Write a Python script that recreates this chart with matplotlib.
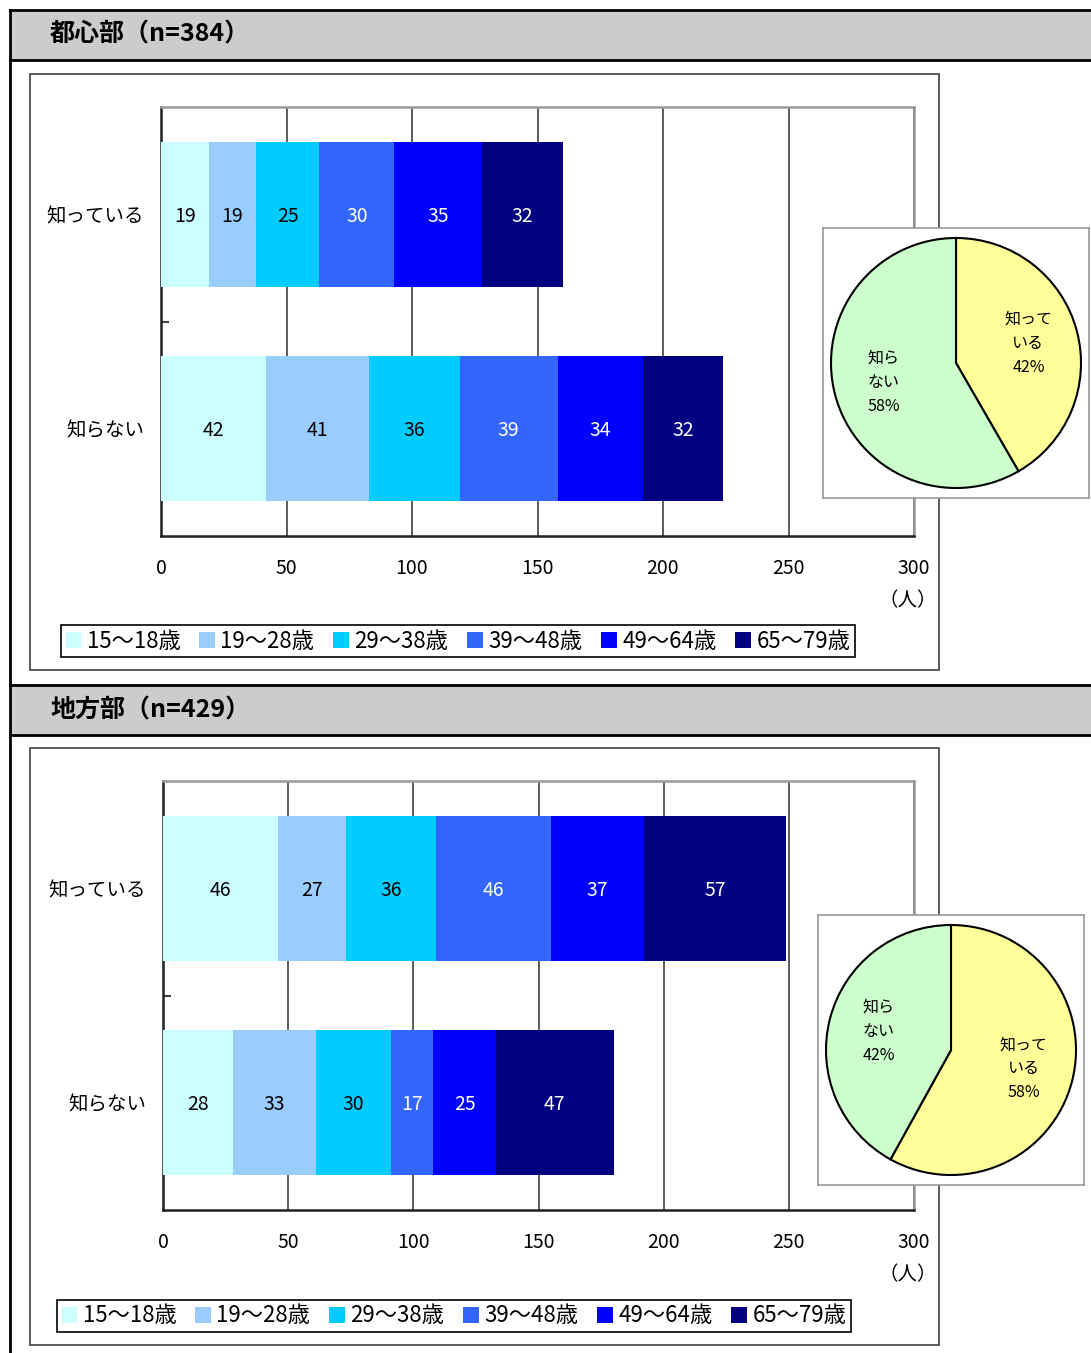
import numpy as np
import matplotlib.pyplot as plt
from matplotlib.patches import Rectangle, Patch
from matplotlib.lines import Line2D

plt.rcParams['font.family'] = ['Noto Sans CJK JP', 'DejaVu Sans']

# データ
groups = ['15～18歳', '19～28歳', '29～38歳', '39～48歳', '49～64歳', '65～79歳']
cats = ['知らない', '知っている']          # 下から上の順
urban_know = [19, 19, 25, 30, 35, 32]
urban_unknown = [42, 41, 36, 39, 34, 32]
rural_know = [46, 27, 36, 46, 37, 57]
rural_unknown = [28, 33, 30, 17, 25, 47]
titles = ['都心部（n=384）', '地方部（n=429）']

colors = ['#CCFFFF', '#99CCFF', '#00CCFF', '#3366FF', '#0000FF', '#000080']
txt_colors = ['black', 'black', 'black', 'white', 'white', 'white']
pie_colors = ['#FFFF99', '#CCFFCC']

W, H = 1091, 1353
fig = plt.figure(figsize=(W / 100, H / 100), dpi=100)


def box(x0, y0, x1, y1):
    # ピクセル座標 -> figure座標
    return [x0 / W, 1 - y1 / H, (x1 - x0) / W, (y1 - y0) / H]


def rect(x0, y0, x1, y1, **kw):
    l, b, w, h = box(x0, y0, x1, y1)
    fig.patches.append(Rectangle((l, b), w, h, transform=fig.transFigure, **kw))


def hline(y, x0, x1, **kw):
    fig.lines.append(Line2D([x0 / W, x1 / W], [1 - y / H, 1 - y / H], transform=fig.transFigure, **kw))


# 左の縦線
fig.lines.append(Line2D([10 / W, 10 / W], [1 - 10 / H, 0], transform=fig.transFigure, color='black', lw=2))

sections = [
    dict(top=10, know=urban_know, unknown=urban_unknown, ax=(161, 107, 914, 536),
         frame=(30, 74, 939, 670), leg_x=458, leg_y=641, pie=(823, 228, 1089, 498)),
    dict(top=685, know=rural_know, unknown=rural_unknown, ax=(163, 781, 914, 1210),
         frame=(30, 748, 939, 1345), leg_x=454, leg_y=1316, pie=(818, 915, 1084, 1185)),
]

for k, s in enumerate(sections):
    t = s['top']
    # 見出し帯
    rect(10, t, W, t + 50, facecolor='#CCCCCC', edgecolor='none', zorder=0)
    hline(t, 10, W, color='black', lw=2)
    hline(t + 50, 10, W, color='black', lw=2)
    fig.text(50 / W, 1 - (t + 25) / H, titles[k], fontsize=18, fontweight='bold', va='center', ha='left')

    # グラフ枠
    rect(*s['frame'], fill=False, edgecolor='#404040', lw=1.2, zorder=1)

    ax = fig.add_axes(box(*s['ax']))
    data = np.array([s['unknown'], s['know']])
    y = np.arange(len(cats))
    left = np.zeros(len(cats))
    for i in range(len(groups)):
        bars = ax.barh(y, data[:, i], left=left, height=0.676, color=colors[i], label=groups[i], zorder=3)
        for j, b in enumerate(bars):
            ax.text(left[j] + data[j, i] / 2, y[j] - 0.01, str(data[j, i]), ha='center', va='center',
                    fontsize=14, color=txt_colors[i], zorder=4)
        left += data[:, i]

    ax.set_xlim(0, 300)
    ax.set_ylim(-0.5, 1.5)
    ax.set_xticks(np.arange(0, 301, 50))
    ax.tick_params(axis='x', length=0, pad=16, labelsize=14)
    ax.set_yticks([0.5])
    ax.set_yticklabels([])
    ax.tick_params(axis='y', which='major', direction='in', length=6, width=1.5, color='#404040')
    ax.set_yticks(y, minor=True)
    ax.set_yticklabels(cats, minor=True)
    ax.tick_params(axis='y', which='minor', length=0, pad=12, labelsize=14)
    ax.grid(axis='x', color='#404040', lw=1.2, zorder=1)
    for sp in ['left', 'bottom']:
        ax.spines[sp].set_color('#202020')
        ax.spines[sp].set_linewidth(1.8)
    for sp in ['top', 'right']:
        ax.spines[sp].set_color('#999999')
        ax.spines[sp].set_linewidth(1.8)

    fy1 = s['ax'][3]
    fig.text(908 / W, 1 - (fy1 + 65) / H, '（人）', fontsize=14, ha='center', va='center')

    # 凡例
    handles = [Patch(facecolor=c, edgecolor='none') for c in colors]
    leg = fig.legend(handles, groups, loc='center', bbox_to_anchor=(s['leg_x'] / W, 1 - s['leg_y'] / H),
                     ncol=6, fontsize=16, handlelength=0.7, handleheight=0.7, handletextpad=0.25,
                     columnspacing=0.85, borderpad=0.2, fancybox=False, framealpha=1)
    leg.get_frame().set_edgecolor('black')
    leg.get_frame().set_linewidth(1.2)

    # 円グラフ
    pax = fig.add_axes(box(*s['pie']), zorder=5)
    tot = [sum(s['know']), sum(s['unknown'])]
    pct = [round(v * 100 / sum(tot)) for v in tot]
    labels = ['知って\nいる\n%d%%' % pct[0], '知ら\nない\n%d%%' % pct[1]]
    wedges, texts = pax.pie(tot, colors=pie_colors, startangle=90, counterclock=False, labels=labels,
                            labeldistance=0.6, wedgeprops=dict(edgecolor='black', linewidth=1.5),
                            textprops=dict(fontsize=11.5, linespacing=1.55))
    for tx in texts:
        tx.set_ha('center')
        tx.set_va('center')
    pw = s['pie'][2] - s['pie'][0]
    ph = s['pie'][3] - s['pie'][1]
    pax.set_aspect('auto')
    pax.set_xlim(-pw / 250, pw / 250)
    pax.set_ylim(-ph / 250, ph / 250)
    pax.set_xticks([])
    pax.set_yticks([])
    pax.set_frame_on(True)
    pax.set_facecolor('white')
    for sp in pax.spines.values():
        sp.set_color('#999999')
        sp.set_linewidth(1.2)

fig.savefig('out.png', dpi=100, facecolor='white')
